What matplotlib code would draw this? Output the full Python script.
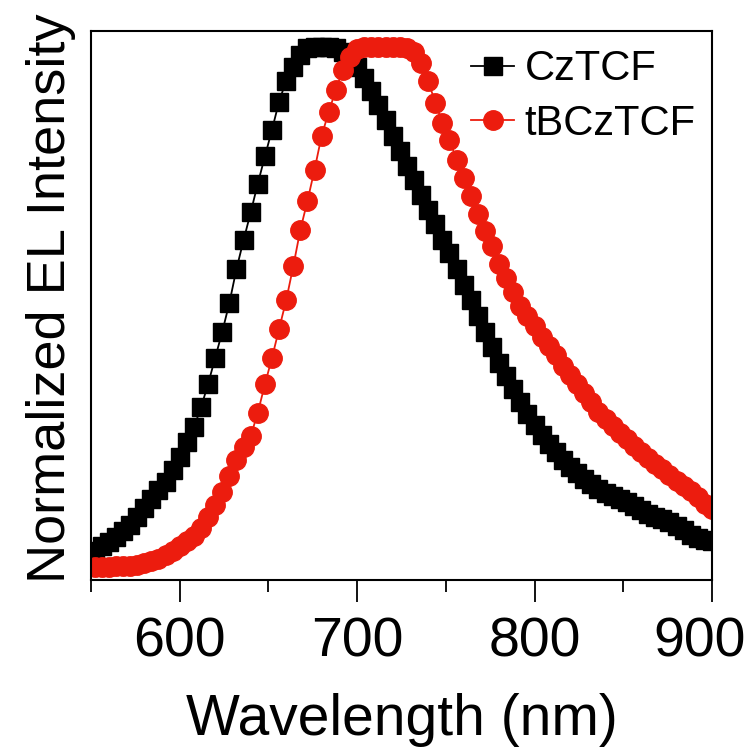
import matplotlib
matplotlib.use("Agg")
import matplotlib.pyplot as plt
from matplotlib.transforms import ScaledTranslation

plt.rcParams['font.family'] = ['Liberation Sans', 'DejaVu Sans']

# Emission wavelengths (nm), sampled every 4 nm
wavelength = [
    552, 556, 560, 564, 568, 572, 576, 580, 584, 588,
    592, 596, 600, 604, 608, 612, 616, 620, 624, 628,
    632, 636, 640, 644, 648, 652, 656, 660, 664, 668,
    672, 676, 680, 684, 688, 692, 696, 700, 704, 708,
    712, 716, 720, 724, 728, 732, 736, 740, 744, 748,
    752, 756, 760, 764, 768, 772, 776, 780, 784, 788,
    792, 796, 800, 804, 808, 812, 816, 820, 824, 828,
    832, 836, 840, 844, 848, 852, 856, 860, 864, 868,
    872, 876, 880, 884, 888, 892, 896, 900,
]

# Normalized electroluminescence of CzTCF
el_cztcf = [
    0.036, 0.045, 0.053, 0.062, 0.073, 0.086, 0.101, 0.117, 0.134, 0.152,
    0.168, 0.190, 0.216, 0.243, 0.272, 0.310, 0.355, 0.405, 0.455, 0.510,
    0.575, 0.630, 0.683, 0.738, 0.790, 0.841, 0.895, 0.935, 0.962, 0.985,
    0.997, 1.000, 1.000, 1.000, 0.997, 0.990, 0.980, 0.962, 0.940, 0.915,
    0.888, 0.860, 0.830, 0.800, 0.772, 0.745, 0.716, 0.688, 0.660, 0.630,
    0.605, 0.575, 0.545, 0.515, 0.485, 0.455, 0.425, 0.395, 0.370, 0.345,
    0.320, 0.298, 0.277, 0.258, 0.240, 0.224, 0.209, 0.196, 0.184, 0.173,
    0.163, 0.155, 0.147, 0.141, 0.135, 0.129, 0.122, 0.114, 0.106, 0.100,
    0.096, 0.091, 0.084, 0.075, 0.066, 0.060, 0.057, 0.055,
]

# Normalized electroluminescence of tBCzTCF
el_tbcztcf = [
    0.005, 0.005, 0.005, 0.006, 0.006, 0.007, 0.009, 0.012, 0.016, 0.021,
    0.028, 0.036, 0.045, 0.054, 0.065, 0.080, 0.100, 0.124, 0.148, 0.178,
    0.210, 0.235, 0.255, 0.300, 0.354, 0.405, 0.460, 0.515, 0.580, 0.650,
    0.705, 0.765, 0.830, 0.875, 0.918, 0.956, 0.981, 0.995, 1.000, 1.000,
    1.000, 1.000, 1.000, 1.000, 0.998, 0.990, 0.968, 0.935, 0.893, 0.855,
    0.822, 0.784, 0.748, 0.714, 0.680, 0.648, 0.618, 0.585, 0.558, 0.530,
    0.505, 0.485, 0.465, 0.445, 0.428, 0.410, 0.390, 0.372, 0.355, 0.338,
    0.320, 0.302, 0.288, 0.275, 0.262, 0.249, 0.237, 0.225, 0.213, 0.202,
    0.192, 0.181, 0.170, 0.160, 0.150, 0.138, 0.126, 0.115,
]

labels = ["CzTCF", "tBCzTCF"]
major_ticks = [600, 700, 800, 900]
minor_ticks = [550, 650, 750, 850]

RED = "#ec1c0e"

fig = plt.figure(figsize=(7.55, 7.51), dpi=100)
ax = fig.add_axes([91 / 755, 1 - 580 / 751, 621 / 755, 549 / 751])

ax.plot(wavelength, el_cztcf, color="black", lw=1.3, marker="s",
        markersize=13, markerfacecolor="black", markeredgecolor="black",
        label=labels[0])
ax.plot(wavelength, el_tbcztcf, color=RED, lw=1.3, marker="o",
        markersize=14, markerfacecolor=RED, markeredgecolor=RED,
        label=labels[1])

ax.set_xlim(550, 900)
ax.set_ylim(-0.02, 1.03)
ax.set_xticks(major_ticks)
ax.set_xticks(minor_ticks, minor=True)
ax.set_yticks([])
ax.tick_params(axis="x", which="major", direction="out", length=16,
               width=1.3, labelsize=40, pad=10)
ax.tick_params(axis="x", which="minor", direction="out", length=8.6,
               width=1.3)
for side in ax.spines.values():
    side.set_linewidth(1.5)

# keep the last tick label inside the canvas
last = ax.get_xticklabels()[-1]
last.set_transform(last.get_transform()
                   + ScaledTranslation(-12 / 100, 0, fig.dpi_scale_trans))

ax.set_xlabel("Wavelength (nm)", fontsize=41, labelpad=18)
ax.set_ylabel("Normalized EL Intensity", fontsize=39)
ax.yaxis.set_label_coords(-0.024, 0.514)

ax.legend(loc="upper right", bbox_to_anchor=(0.974, 0.967), frameon=False,
          fontsize=30, handlelength=1.05, handletextpad=0.25,
          labelspacing=0.35, borderpad=0, borderaxespad=0)

fig.savefig("out.png", dpi=100)
